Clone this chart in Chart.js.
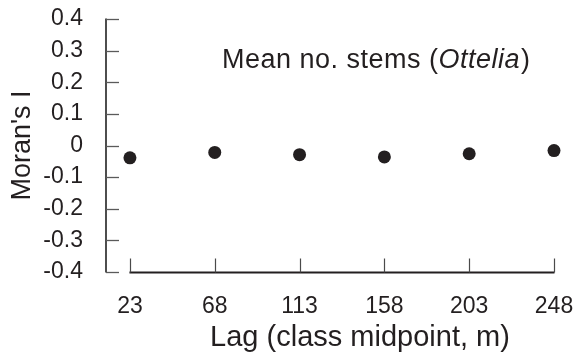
<!DOCTYPE html>
<html>
<head>
<meta charset="utf-8">
<script src="https://cdn.jsdelivr.net/npm/chart.js@4/dist/chart.umd.min.js"></script>
<style>
  html, body { margin: 0; padding: 0; background: #ffffff; }
  #wrap { width: 573px; height: 361px; position: relative; }
</style>
</head>
<body>
<div id="wrap"><canvas id="chart" width="573" height="361"></canvas></div>
<script>
// Lag class midpoints (m) and Moran's I for mean number of stems
const lagMidpoints = [23, 68, 113, 158, 203, 248];
const moransI = [-0.039, -0.022, -0.029, -0.036, -0.026, -0.016];
const yTickValues = [0.4, 0.3, 0.2, 0.1, 0, -0.1, -0.2, -0.3, -0.4];

const INK = '#231f20';
const FONT = '"Liberation Sans", Arial, Helvetica, sans-serif';

// Axis lines and inward tick marks, drawn from the scales
const axesPlugin = {
  id: 'axesPlugin',
  beforeDatasetsDraw(chart) {
    const { ctx, chartArea, scales: { x, y } } = chart;
    const yTop = y.getPixelForValue(yTickValues[0]);
    const yBot = y.getPixelForValue(yTickValues[yTickValues.length - 1]);
    const ax = chartArea.left;
    ctx.save();
    // vertical axis
    ctx.strokeStyle = '#3a3a3a';
    ctx.lineWidth = 1.8;
    ctx.beginPath();
    ctx.moveTo(ax, yTop - 0.5);
    ctx.lineTo(ax, yBot + 0.5);
    ctx.stroke();
    ctx.strokeStyle = '#5a5a5a';
    ctx.lineWidth = 1.3;
    yTickValues.forEach(v => {
      const py = Math.round(y.getPixelForValue(v)) + 0.5;
      ctx.beginPath();
      ctx.moveTo(ax, py);
      ctx.lineTo(ax + 13, py);
      ctx.stroke();
    });
    // horizontal axis spanning the lag classes
    const x0 = x.getPixelForValue(lagMidpoints[0]);
    const x1 = x.getPixelForValue(lagMidpoints[lagMidpoints.length - 1]);
    const base = Math.round(yBot) + 0.5;
    ctx.strokeStyle = INK;
    ctx.lineWidth = 2;
    ctx.beginPath();
    ctx.moveTo(x0 - 0.5, base);
    ctx.lineTo(x1 + 0.5, base);
    ctx.stroke();
    ctx.strokeStyle = '#4a4a4a';
    ctx.lineWidth = 1.2;
    lagMidpoints.forEach(v => {
      const px = Math.round(x.getPixelForValue(v)) + 0.5;
      ctx.beginPath();
      ctx.moveTo(px, base);
      ctx.lineTo(px, base - 14);
      ctx.stroke();
    });
    ctx.restore();
  },
  afterDraw(chart) {
    const { ctx, chartArea } = chart;
    ctx.save();
    ctx.fillStyle = INK;
    ctx.textBaseline = 'alphabetic';

    // x-axis title, centred a little right of the plot centre
    ctx.font = '29px ' + FONT;
    ctx.textAlign = 'center';
    ctx.fillText('Lag (class midpoint, m)', (chartArea.left + chartArea.right) / 2 + 30, 346);

    // panel label with italic genus name
    ctx.textAlign = 'left';
    ctx.letterSpacing = '0.5px';
    let px = 222, py = 68;
    ctx.font = '27px ' + FONT;
    const part1 = 'Mean no. stems (';
    ctx.fillText(part1, px, py);
    px += ctx.measureText(part1).width;
    ctx.font = 'italic 27px ' + FONT;
    ctx.fillText('Ottelia', px, py);
    px += ctx.measureText('Ottelia').width;
    ctx.font = '27px ' + FONT;
    ctx.fillText(')', px + 1, py);
    ctx.restore();
  }
};

new Chart(document.getElementById('chart'), {
  type: 'scatter',
  data: {
    datasets: [{
      data: lagMidpoints.map((lag, i) => ({ x: lag, y: moransI[i] })),
      backgroundColor: INK,
      borderWidth: 0,
      pointRadius: 6.5,
      pointHoverRadius: 6.5,
      clip: false
    }]
  },
  options: {
    responsive: false,
    animation: false,
    events: [],
    layout: { padding: { top: 19, right: 19, left: 0, bottom: 0 } },
    plugins: { legend: { display: false }, tooltip: { enabled: false } },
    scales: {
      x: {
        type: 'linear',
        min: 10.3,
        max: 248,
        grid: { display: false, drawTicks: false },
        border: { display: false },
        afterFit(s) { s.height = 89; s.paddingLeft = 0; s.paddingRight = 0; },
        afterBuildTicks(s) { s.ticks = lagMidpoints.map(v => ({ value: v })); },
        ticks: {
          color: INK,
          font: { family: FONT, size: 23 },
          padding: 21,
          maxRotation: 0,
          autoSkip: false,
          callback: v => String(v)
        },
        title: { display: false }
      },
      y: {
        type: 'linear',
        min: -0.4,
        max: 0.4,
        grid: { display: false, drawTicks: false },
        border: { display: false },
        afterFit(s) { s.width = 106; s.paddingTop = 0; s.paddingBottom = 0; },
        afterBuildTicks(s) { s.ticks = yTickValues.map(v => ({ value: v })); },
        ticks: {
          color: INK,
          font: { family: FONT, size: 23 },
          padding: 23,
          autoSkip: false,
          callback: v => (Math.abs(v) < 1e-9 ? '0' : (Math.round(v * 10) / 10).toFixed(1))
        },
        title: {
          display: true,
          text: "Moran's I",
          color: INK,
          font: { family: FONT, size: 27 },
          padding: { top: 6, bottom: 0 }
        }
      }
    }
  },
  plugins: [axesPlugin]
});
</script>
</body>
</html>
